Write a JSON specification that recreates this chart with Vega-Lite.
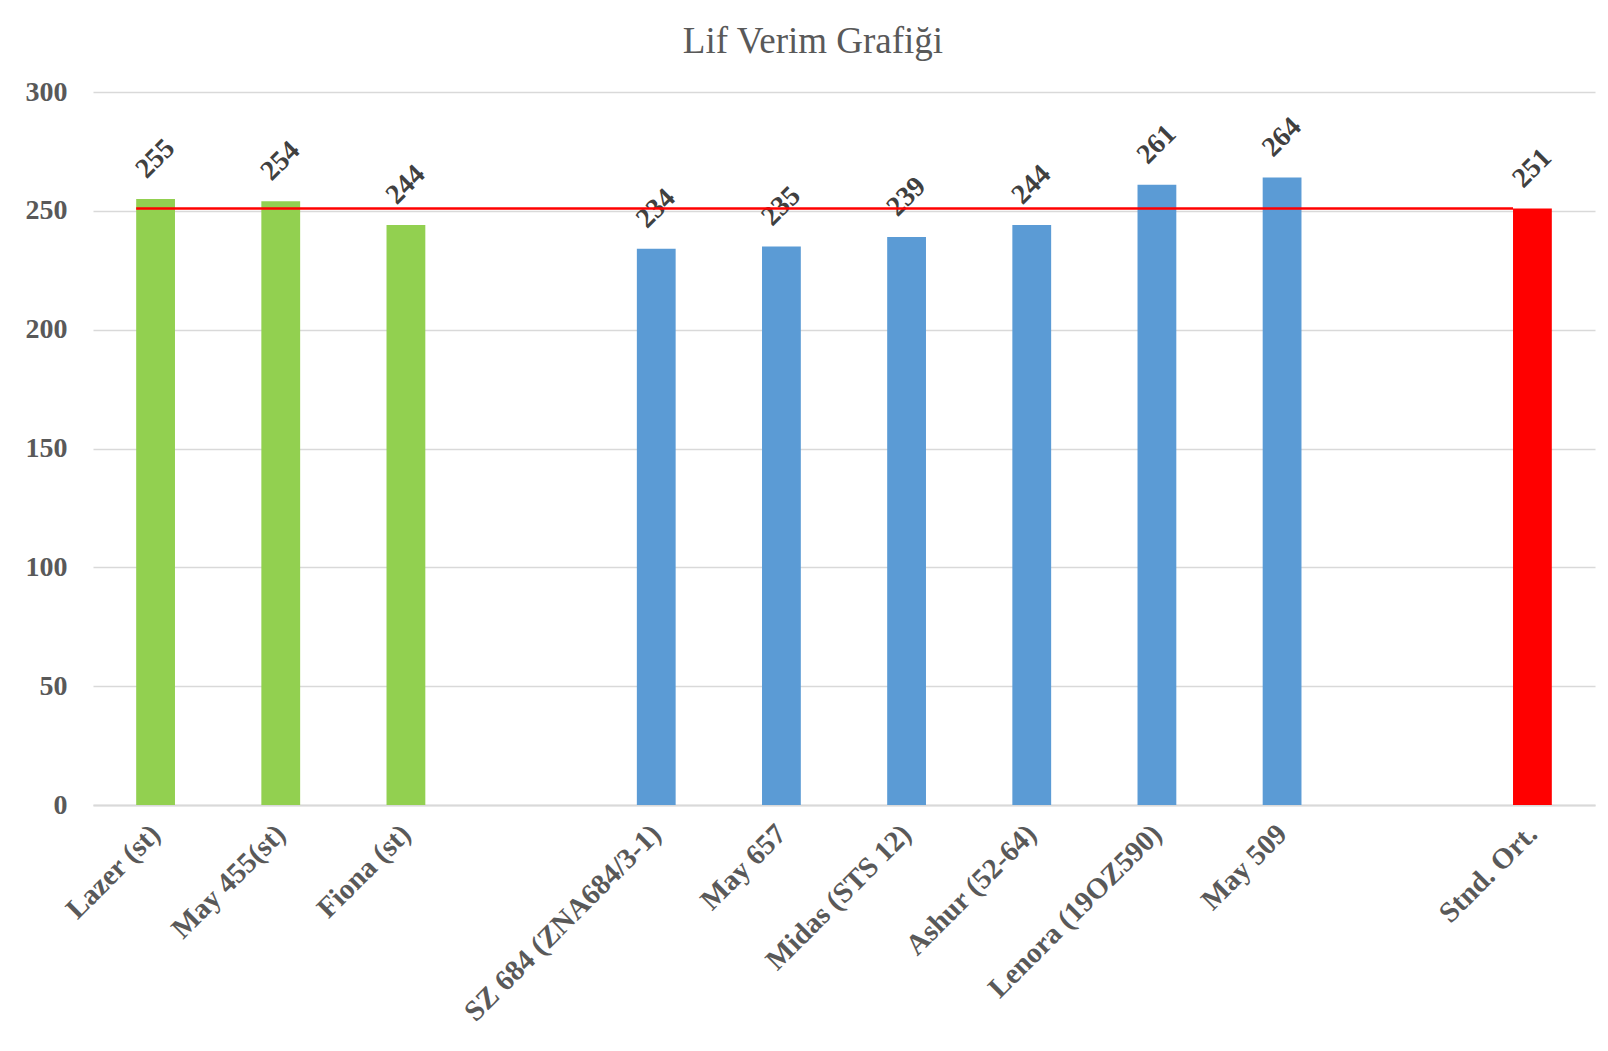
{
  "$schema": "https://vega.github.io/schema/vega-lite/v6.json",
  "width": 1502,
  "height": 713,
  "autosize": {"type": "none"},
  "padding": {"left": 93, "top": 92, "right": 13, "bottom": 246},
  "background": "white",
  "title": {"text": "Lif Verim Grafiği", "font": "Liberation Serif", "fontSize": 37, "fontWeight": "normal", "color": "#595959", "anchor": "middle", "offset": 17, "dx": -31},
  "config": {"view": {"stroke": null}},
  "data": {"values": [
    {"variety": "Lazer (st)", "value": 255, "group": "st"},
    {"variety": "May 455(st)", "value": 254, "group": "st"},
    {"variety": "Fiona (st)", "value": 244, "group": "st"},
    {"variety": "SZ 684 (ZNA684/3-1)", "value": 234, "group": "new"},
    {"variety": "May 657", "value": 235, "group": "new"},
    {"variety": "Midas (STS 12)", "value": 239, "group": "new"},
    {"variety": "Ashur (52-64)", "value": 244, "group": "new"},
    {"variety": "Lenora (19OZ590)", "value": 261, "group": "new"},
    {"variety": "May 509", "value": 264, "group": "new"},
    {"variety": "Stnd. Ort.", "value": 251, "group": "avg"}
  ]},
  "encoding": {
    "x": {
      "field": "variety", "type": "nominal", "title": null,
      "scale": {"domain": ["Lazer (st)", "May 455(st)", "Fiona (st)", " ", "SZ 684 (ZNA684/3-1)", "May 657", "Midas (STS 12)", "Ashur (52-64)", "Lenora (19OZ590)", "May 509", "  ", "Stnd. Ort."], "paddingInner": 0.69, "paddingOuter": 0.345},
      "axis": {"labelAngle": -45, "labelAlign": "right", "labelBaseline": "middle", "labelFont": "Liberation Serif", "labelFontWeight": "bold", "labelFontSize": 29, "labelColor": "#595959", "labelPadding": 24, "ticks": false, "domainColor": "#d9d9d9", "domainWidth": 2, "grid": false, "labelOverlap": false, "labelLimit": 0}
    }
  },
  "layer": [
    {
      "mark": {"type": "bar"},
      "encoding": {
        "y": {"field": "value", "type": "quantitative", "title": null,
          "scale": {"domain": [0, 300], "nice": false},
          "axis": {"values": [0, 50, 100, 150, 200, 250, 300], "labelFont": "Liberation Serif", "labelFontWeight": "bold", "labelFontSize": 28, "labelColor": "#595959", "labelPadding": 26, "ticks": false, "domain": false, "gridColor": "#d9d9d9", "gridWidth": 1.5}},
        "color": {"field": "group", "type": "nominal", "legend": null,
          "scale": {"domain": ["st", "new", "avg"], "range": ["#92d050", "#5b9bd5", "#ff0000"]}}
      }
    },
    {
      "mark": {"type": "text", "font": "Liberation Serif", "fontWeight": "bold", "fontSize": 28, "color": "#404040", "angle": -45, "align": "center", "baseline": "middle", "radius": 40, "theta": 0},
      "encoding": {
        "y": {"field": "value", "type": "quantitative"},
        "text": {"field": "value", "type": "quantitative"}
      }
    },
    {
      "transform": [{"filter": "datum.variety == 'Stnd. Ort.'"}],
      "mark": {"type": "rule", "color": "#ff0000", "strokeWidth": 2.5},
      "encoding": {
        "x": {"datum": "Lazer (st)", "type": "nominal", "bandPosition": 0},
        "x2": {"field": "variety", "bandPosition": 0},
        "y": {"field": "value", "type": "quantitative"}
      }
    }
  ]
}
